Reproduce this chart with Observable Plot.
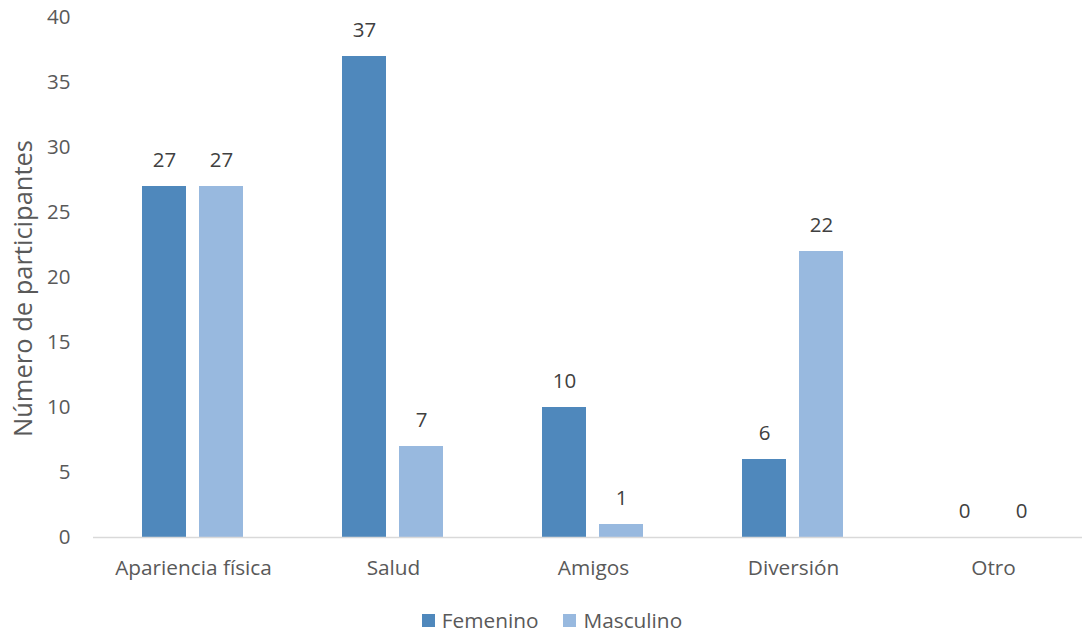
<!DOCTYPE html>
<html>
<head>
<meta charset="utf-8">
<script src="https://cdn.jsdelivr.net/npm/d3@7"></script>
<script src="https://cdn.jsdelivr.net/npm/@observablehq/plot@0.6"></script>
<style>
  html, body { margin: 0; padding: 0; background: #fff; overflow: hidden; }
  body { width: 1082px; height: 634px; font-family: "Open Sans", sans-serif; color: #595959; }
  #chart svg { display: block; overflow: visible; }
  #legend { display: flex; justify-content: center; align-items: center; gap: 25px; font-size: 20.8px; color: #595959; margin-top: 23px; padding-left: 22px; line-height: 1; }
  #legend .item { display: flex; align-items: center; gap: 7px; }
  #legend .sw { width: 13px; height: 13px; display: inline-block; }
</style>
</head>
<body>
<div id="chart"></div>
<div id="legend"></div>
<script>
const categories = ["Apariencia física", "Salud", "Amigos", "Diversión", "Otro"];
const series = ["Femenino", "Masculino"];
const femenino = [27, 37, 10, 6, 0];
const masculino = [27, 7, 1, 22, 0];
const colors = ["#4F88BC", "#98B9DF"];
const yTicks = [0, 5, 10, 15, 20, 25, 30, 35, 40];

const data = [];
categories.forEach((c, i) => {
  data.push({cat: c, sex: series[0], value: femenino[i]});
  data.push({cat: c, sex: series[1], value: masculino[i]});
});

const chart = Plot.plot({
  width: 1082,
  height: 587,
  marginLeft: 92,
  marginRight: -12,
  marginTop: 17,
  marginBottom: 50,
  style: {fontFamily: "'Open Sans', sans-serif", fontSize: "20.5px", color: "#595959", background: "white"},
  fx: {domain: categories, paddingInner: 0, paddingOuter: 0, label: null},
  x: {domain: series, paddingInner: 0.22, paddingOuter: 0.85, axis: null},
  y: {domain: [0, 40], ticks: yTicks, label: null},
  color: {domain: series, range: colors},
  marks: [
    Plot.axisY({ticks: yTicks, tickSize: 0, tickPadding: 23, fontSize: "20.5px",
      label: "Número de participantes", labelAnchor: "center", labelArrow: "none", labelOffset: 80}),
    Plot.axisFx({tickSize: 0, tickPadding: 23, label: null, fontSize: "20.8px", anchor: "bottom"}),
    Plot.barY(data, {fx: "cat", x: "sex", y: "value", fill: "sex"}),
    Plot.ruleY([0], {stroke: "#d9d9d9", strokeWidth: 1.5}),
    Plot.text(data, {fx: "cat", x: "sex", y: "value", text: d => String(d.value), dy: -26, fontSize: "20.5px", fill: "#404040"})
  ]
});
chart.querySelectorAll("g[aria-label='y-axis label'], g[aria-label='y-axis label'] text").forEach(el => {
  el.setAttribute("font-size", "25.5px");
  el.style.fontSize = "25.5px";
});
chart.querySelectorAll("g[aria-label='y-axis label']").forEach(g => {
  const t = g.getAttribute("transform") || "";
  g.setAttribute("transform", "translate(0,11) " + t);
});
document.getElementById("chart").appendChild(chart);

const legend = document.getElementById("legend");
series.forEach((s, i) => {
  const it = document.createElement("div");
  it.className = "item";
  const sw = document.createElement("span");
  sw.className = "sw";
  sw.style.background = colors[i];
  const t = document.createElement("span");
  t.textContent = s;
  it.appendChild(sw);
  it.appendChild(t);
  legend.appendChild(it);
});
</script>
</body>
</html>
